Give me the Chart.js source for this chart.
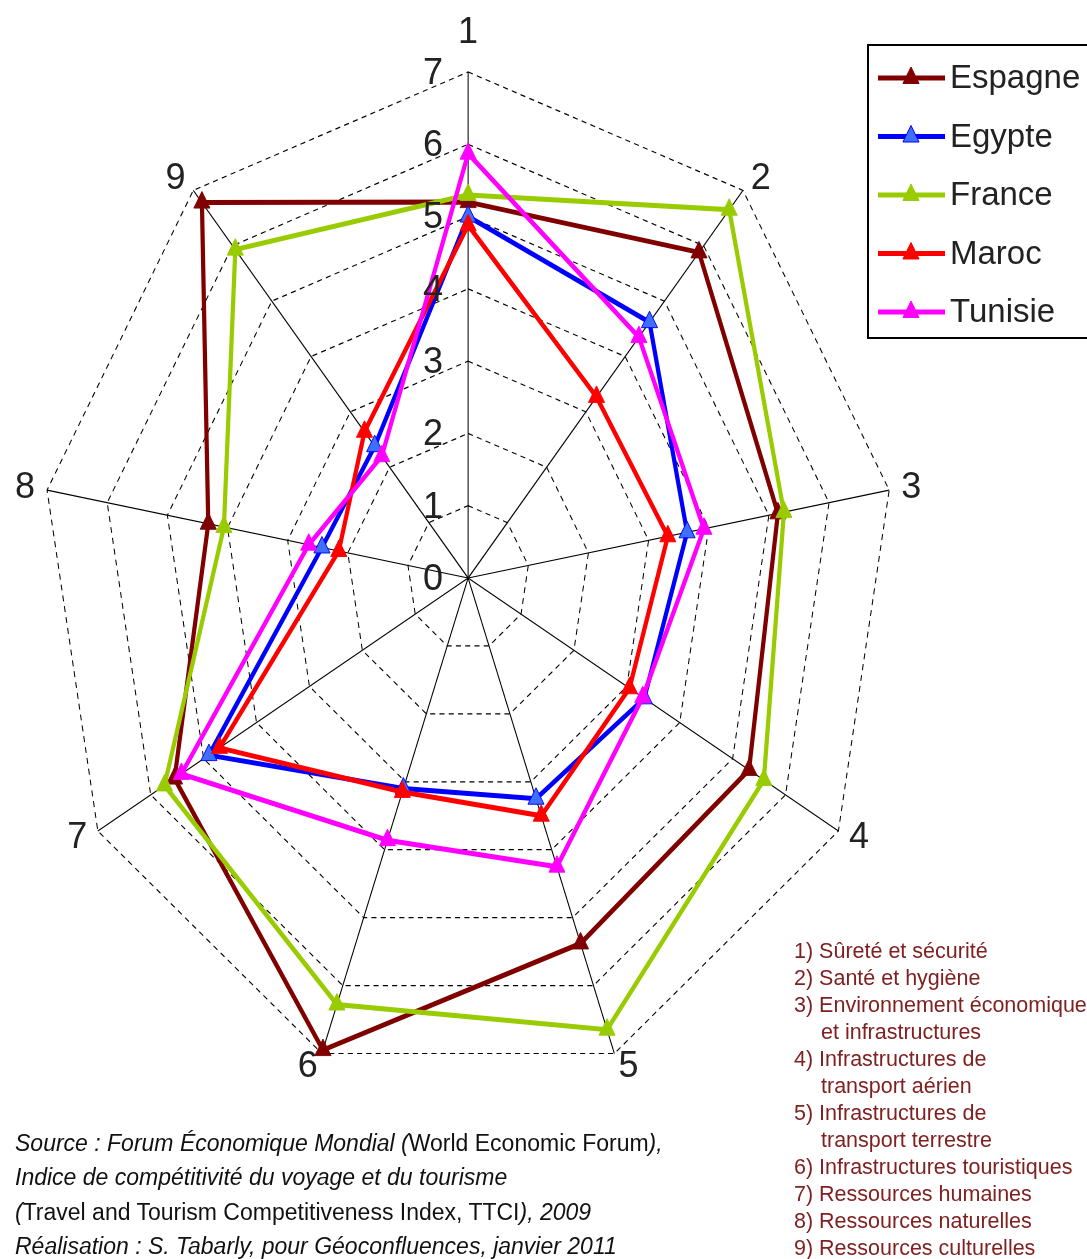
<!DOCTYPE html>
<html>
<head>
<meta charset="utf-8">
<script src="https://cdn.jsdelivr.net/npm/chart.js@4.4.0/dist/chart.umd.min.js"></script>
<style>
  body { margin: 0; background: #fff; }
  #wrap { position: relative; width: 1087px; height: 1259px; overflow: hidden; }
  #wrap canvas { position: absolute; left: 0; top: 0; }
  .notes { position: absolute; left: 794px; top: 938px; font: 21.5px/27px "Liberation Sans", Arial, sans-serif; color: #802020; white-space: nowrap; }
  .notes .cont { padding-left: 27px; }
  .source { position: absolute; left: 15px; top: 1126px; font: italic 23px/34.3px "Liberation Sans", Arial, sans-serif; color: #111; white-space: nowrap; }
  .source span { font-style: normal; }
</style>
</head>
<body>
<div id="wrap">
  <canvas id="radar" width="1087" height="1259"></canvas>
  <div class="notes" id="notes"></div>
  <div class="source">
    <div>Source : Forum Économique Mondial (<span>World Economic Forum</span>),</div>
    <div>Indice de compétitivité du voyage et du tourisme</div>
    <div>(<span>Travel and Tourism Competitiveness Index, TTCI</span>), 2009</div>
    <div>Réalisation : S. Tabarly, pour Géoconfluences, janvier 2011</div>
  </div>
</div>
<script>
// axes of the radar (pillars of the TTCI)
const axisLabels = ['1', '2', '3', '4', '5', '6', '7', '8', '9']
const categoryNames = [
  'Sûreté et sécurité',
  'Santé et hygiène',
  'Environnement économique|et infrastructures',
  'Infrastructures de|transport aérien',
  'Infrastructures de|transport terrestre',
  'Infrastructures touristiques',
  'Ressources humaines',
  'Ressources naturelles',
  'Ressources culturelles',
]
const tickValues = [0, 1, 2, 3, 4, 5, 6, 7]

const countries = ['Espagne', 'Egypte', 'France', 'Maroc', 'Tunisie']
const espagne = [5.2, 5.88, 5.15, 5.31, 5.38, 6.95, 5.55, 4.32, 6.78]
const egypte = [5.0, 4.62, 3.64, 3.33, 3.25, 3.1, 4.9, 2.43, 2.38]
const france = [5.3, 6.65, 5.25, 5.59, 6.65, 6.28, 5.74, 4.06, 5.93]
const maroc = [4.88, 3.27, 3.32, 3.05, 3.5, 3.15, 4.7, 2.15, 2.64]
const tunisie = [5.87, 4.35, 3.92, 3.3, 4.25, 3.86, 5.42, 2.65, 2.2]
const series = [espagne, egypte, france, maroc, tunisie]

const lineColors = ['#800000', '#0000FF', '#99CC00', '#FF0000', '#FF00FF']
const markerFills = ['#800000', '#3F6FFF', '#99CC00', '#FF0000', '#FF00FF']

// the original plot is squashed horizontally
const SX = 0.845
const TXT = '#222'

// list of pillars, bottom right
const notes = document.getElementById('notes')
categoryNames.forEach((name, i) => {
  name.split('|').forEach((part, j) => {
    const d = document.createElement('div')
    if (j === 0) d.textContent = (i + 1) + ') ' + part
    else { d.textContent = part; d.className = 'cont' }
    notes.appendChild(d)
  })
})

function triangle(ctx, x, y, r, fill, stroke) {
  ctx.beginPath()
  ctx.moveTo(x, y - r)
  ctx.lineTo(x + 0.866 * r * SX, y + 0.5 * r)
  ctx.lineTo(x - 0.866 * r * SX, y + 0.5 * r)
  ctx.closePath()
  ctx.fillStyle = fill
  ctx.fill()
  ctx.lineWidth = 1
  ctx.strokeStyle = stroke
  ctx.stroke()
}

const squash = {
  id: 'squash',
  beforeDraw(chart) {
    chart.ctx.save()
    chart.ctx.scale(SX, 1)
  },
  afterDatasetsDraw(chart) {
    chart.ctx.restore()
  },
  afterDraw(chart) {
    const ctx = chart.ctx
    const r = chart.scales.r
    ctx.save()
    ctx.fillStyle = TXT
    ctx.font = '36px "Liberation Sans", Arial, sans-serif'

    // axis numbers
    axisLabels.forEach((lab, i) => {
      const p = r.getPointPositionForValue(i, 7.2)
      const x = p.x * SX
      if (i === 0) {
        ctx.textAlign = 'center'
        ctx.textBaseline = 'alphabetic'
        ctx.fillText(lab, x, p.y - 15)
      } else {
        ctx.textAlign = i <= 4 ? 'left' : 'right'
        ctx.textBaseline = 'middle'
        ctx.fillText(lab, x, p.y)
      }
    })

    // scale values along axis 1
    ctx.textAlign = 'center'
    ctx.textBaseline = 'middle'
    tickValues.forEach(v => {
      const y = r.yCenter - r.getDistanceFromCenterForValue(v)
      ctx.fillText(String(v), r.xCenter * SX - 35, y + 2)
    })

    // legend
    ctx.lineWidth = 2
    ctx.strokeStyle = '#000'
    ctx.strokeRect(868, 45, 222, 293)
    ctx.font = '33px "Liberation Sans", Arial, sans-serif'
    ctx.textAlign = 'left'
    chart.data.datasets.forEach((ds, i) => {
      const y = 78 + i * 58.5
      ctx.lineWidth = 5
      ctx.strokeStyle = ds.borderColor
      ctx.beginPath()
      ctx.moveTo(878, y)
      ctx.lineTo(945, y)
      ctx.stroke()
      triangle(ctx, 911, y, 11, ds.pointBackgroundColor, ds.pointBorderColor)
      ctx.fillStyle = TXT
      ctx.fillText(ds.label, 950, y + 1)
    })
    ctx.restore()
  },
}

new Chart(document.getElementById('radar'), {
  type: 'radar',
  data: {
    labels: axisLabels,
    datasets: countries.map((name, i) => ({
      label: name,
      data: series[i],
      borderColor: lineColors[i],
      borderWidth: 5,
      fill: false,
      pointStyle: 'triangle',
      pointRadius: 11,
      pointBackgroundColor: markerFills[i],
      pointBorderColor: lineColors[i],
      pointBorderWidth: 1,
      order: countries.length - 1 - i,
      clip: false,
    })),
  },
  options: {
    responsive: false,
    animation: false,
    layout: { padding: { left: 48, top: 72, right: 27, bottom: 175 } },
    plugins: { legend: { display: false }, tooltip: { enabled: false } },
    scales: {
      r: {
        min: 0,
        max: 7,
        ticks: { display: false, stepSize: 1 },
        pointLabels: { display: false },
        grid: { color: '#000', lineWidth: 1.2, borderDash: [6, 5] },
        border: { dash: [6, 5] },
        angleLines: { color: '#000', lineWidth: 1.2 },
        afterFit: (s) => {
          s.xCenter = s.left + s.width / 2
          s.yCenter = s.top + s.height / 2
          s.drawingArea = Math.min(s.width, s.height) / 2
        },
      },
    },
  },
  plugins: [squash],
})
</script>
</body>
</html>
